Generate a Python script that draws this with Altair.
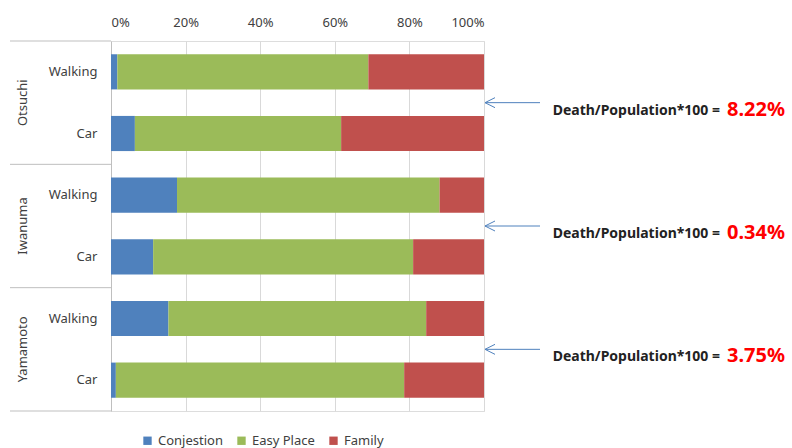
import altair as alt
import pandas as pd

places = ["Otsuchi", "Otsuchi", "Iwanuma", "Iwanuma", "Yamamoto", "Yamamoto"]
modes = ["Walking", "Car", "Walking", "Car", "Walking", "Car"]
conjestion = [1.7, 6.4, 17.7, 11.3, 15.4, 1.3]
easy_place = [67.3, 55.3, 70.4, 69.7, 69.1, 77.3]
family = [31.0, 38.3, 11.9, 19.0, 15.5, 21.4]

series = ["Conjestion", "Easy Place", "Family"]
colors = ["#4F81BD", "#9BBB59", "#C0504D"]

group_names = ["Otsuchi", "Iwanuma", "Yamamoto"]
group_mid = [1, 3, 5]
separators = [0, 2, 4, 6]
ratio_labels = ["8.22%", "0.34%", "3.75%"]
x_ticks = [0, 20, 40, 60, 80, 100]

FONT = "Noto Sans"

rows = []
keys = [f"{p}|{m}" for p, m in zip(places, modes)]
for i, k in enumerate(keys):
    for j, (s, vals) in enumerate(zip(series, [conjestion, easy_place, family])):
        rows.append({"key": k, "series": s, "value": vals[i], "ord": j})
bars_df = pd.DataFrame(rows)

groups_df = pd.DataFrame({"name": group_names, "pos": group_mid,
                          "ratio": ratio_labels,
                          "txt": ["Death/Population*100 ="] * 3})
sep_df = pd.DataFrame({"pos": separators})

bars = alt.Chart(bars_df).mark_bar().encode(
    x=alt.X("value:Q", stack="zero",
            scale=alt.Scale(domain=[0, 100], nice=False),
            axis=alt.Axis(orient="top", values=x_ticks, labelExpr="datum.value + '%'",
                          grid=True, gridColor="#d9d9d9", domain=False, ticks=False,
                          labelPadding=12, labelFontSize=13, labelColor="#404040",
                          labelFont=FONT, title=None)),
    y=alt.Y("key:N", sort=keys,
            scale=alt.Scale(paddingInner=0.43, paddingOuter=0.215),
            axis=alt.Axis(labelExpr="split(datum.value, '|')[1]", ticks=False,
                          labelPadding=14, labelFontSize=13, labelColor="#404040",
                          labelFont=FONT, domainColor="#bfbfbf", grid=False, title=None)),
    color=alt.Color("series:N", sort=series,
                    scale=alt.Scale(domain=series, range=colors),
                    legend=alt.Legend(orient="none", direction="horizontal",
                                      legendX=30, legendY=393, title=None,
                                      symbolType="square", symbolSize=70,
                                      symbolStrokeWidth=0, labelFontSize=13,
                                      labelColor="#404040", labelFont=FONT,
                                      columnPadding=12, labelOffset=4)),
    order=alt.Order("ord:Q"),
)

yq = alt.Y("pos:Q", scale=alt.Scale(domain=[0, 6], reverse=True, nice=False), axis=None)

seps = alt.Chart(sep_df).mark_rule(color="#bfbfbf", strokeWidth=1).encode(
    x=alt.value(-101), x2=alt.value(0), y=yq)

glabels = alt.Chart(groups_df).mark_text(
    angle=270, align="center", baseline="middle", fontSize=13,
    color="#404040", font=FONT).encode(x=alt.value(-88), y=yq, text="name:N")

arrows = alt.Chart(groups_df).mark_rule(color="#4F81BD", strokeWidth=1).encode(
    x=alt.value(374), x2=alt.value(429), y=yq)

heads = alt.Chart(groups_df).mark_point(
    shape="M2,-1L0,0L2,1", size=100, filled=False, stroke="#4F81BD",
    strokeWidth=1, opacity=1).encode(x=alt.value(374), y=yq)

txt = alt.Chart(groups_df).mark_text(
    align="right", baseline="alphabetic", dy=12, fontSize=14, fontWeight="bold",
    color="#222222", font=FONT).encode(x=alt.value(609), y=yq, text="txt:N")

red = alt.Chart(groups_df).mark_text(
    align="left", baseline="alphabetic", dy=13, fontSize=20, fontWeight="bold",
    color="#FF0000", font=FONT).encode(x=alt.value(616), y=yq, text="ratio:N")

chart = alt.layer(bars, seps, glabels, arrows, heads, txt, red).resolve_scale(
    y="independent"
).properties(
    width=373, height=370,
    autosize=alt.AutoSizeParams(type="none"),
    padding={"left": 111, "top": 41, "right": 308, "bottom": 37},
).configure_view(stroke=None).configure(background="white")

chart.save("out.html", embed_options={"renderer": "svg", "actions": False})
